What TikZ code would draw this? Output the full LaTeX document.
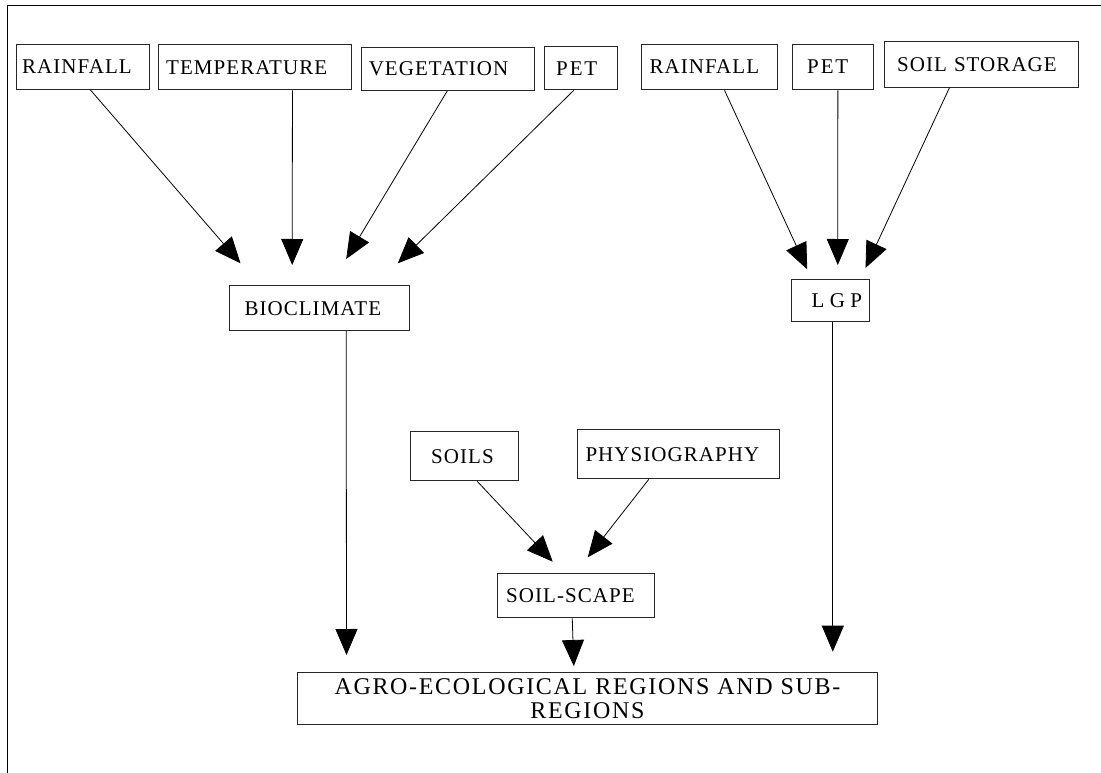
\documentclass[tikz,border=0pt]{standalone}
\usepackage{fontspec}
\usetikzlibrary{arrows.meta}
\newfontfamily\boxfont[LetterSpace=5]{Liberation Serif}
\newfontfamily\petfont[LetterSpace=9]{Liberation Serif}
\newfontfamily\lgpfont[LetterSpace=26]{Liberation Serif}
\newfontfamily\agrofont[LetterSpace=7]{Liberation Serif}
\tikzset{
  bx/.style={draw=black!85, line width=1pt, inner ysep=0pt, align=left, anchor=north west,
    font=\boxfont\fontsize{21}{24}\selectfont},
  conn/.style={line width=0.8pt, -{Triangle[length=26pt,width=22pt]}},
  frame/.style={line width=1pt}
}
\begin{document}
\begin{tikzpicture}[x=1pt,y=-1pt]
\useasboundingbox (0,0) rectangle (1101,773);
\draw[frame] (7,773) -- (7,6) -- (1101,6);
% top row, left group
\node[bx, minimum width=133pt, minimum height=45.3pt, inner xsep=6pt, text width=121pt] (r1) at (15.7,43.7) {RAINFALL};
\node[bx, minimum width=192.7pt, minimum height=45pt, inner xsep=7.7pt, text width=177.3pt] (tmp) at (158,44.3) {TEMPERATURE};
\node[bx, minimum width=173.6pt, minimum height=42.7pt, inner xsep=7.6pt, text width=158.4pt] (veg) at (360.7,47.3) {VEGETATION};
\node[bx, font=\petfont\fontsize{21}{24}\selectfont, minimum width=73pt, minimum height=43pt, inner xsep=11.4pt, text width=50.2pt] (pet1) at (544.3,46.3) {PET};
% top row, right group
\node[bx, minimum width=136.6pt, minimum height=45.6pt, inner xsep=8.3pt, text width=120pt] (r2) at (640.7,43.7) {RAINFALL};
\node[bx, font=\petfont\fontsize{21}{24}\selectfont, minimum width=80.7pt, minimum height=45.6pt, inner xsep=14.7pt, text width=51.3pt] (pet2) at (792,43.7) {PET};
\node[bx, minimum width=193.7pt, minimum height=45.4pt, inner xsep=12.4pt, text width=168.9pt] (ss) at (884.3,41.3) {SOIL STORAGE};
% middle
\node[bx, minimum width=179.4pt, minimum height=44.7pt, inner xsep=14.7pt, text width=150pt] (bio) at (229.3,285.3) {BIOCLIMATE};
\node[bx, font=\lgpfont\fontsize{21}{24}\selectfont, minimum width=78.6pt, minimum height=42.3pt, inner xsep=20.3pt, text width=38pt] (lgp) at (790.7,278.7) {LGP};
\node[bx, minimum width=108pt, minimum height=49pt, inner xsep=20.4pt, text width=67.2pt] (soils) at (410.3,431.3) {SOILS};
\node[bx, minimum width=202.6pt, minimum height=49.3pt, inner xsep=8.3pt, text width=186pt] (phys) at (576.7,429) {PHYSIOGRAPHY};
\node[bx, minimum width=157.5pt, minimum height=44pt, inner xsep=9.2pt, text width=139.1pt] (scape) at (496.5,573.3) {SOIL-SCAPE};
\node[bx, align=center, font=\agrofont\fontsize{24}{24.4}\selectfont, minimum width=580pt, minimum height=51.4pt, inner xsep=10pt, text width=560pt] (agro) at (297,672.3) {AGRO-ECOLOGICAL REGIONS AND SUB-\\REGIONS};
% connectors
\draw[conn] ([xshift=7.8pt]r1.south) -- ([xshift=-79pt,yshift=22pt]bio.north);
\draw[conn] ([xshift=37.6pt]tmp.south) -- ([xshift=-27.3pt,yshift=20.3pt]bio.north);
\draw[conn] ([xshift=-0.8pt]veg.south) -- ([xshift=26.7pt,yshift=26.3pt]bio.north);
\draw[conn] ([xshift=-7.5pt]pet1.south) -- ([xshift=78.3pt,yshift=22pt]bio.north);
\draw[conn] ([xshift=15pt]r2.south) -- ([xshift=-23.3pt,yshift=9.4pt]lgp.north);
\draw[conn] ([xshift=5pt]pet2.south) -- ([xshift=7.3pt,yshift=13.7pt]lgp.north);
\draw[conn] ([xshift=-32.2pt]ss.south) -- ([xshift=35pt,yshift=10.7pt]lgp.north);
\draw[conn] ([xshift=26.7pt]bio.south) -- ([xshift=-241pt,yshift=17.3pt]agro.north);
\draw[conn] ([xshift=2.3pt]lgp.south) -- ([xshift=245.3pt,yshift=20.6pt]agro.north);
\draw[conn] ([xshift=12.4pt]soils.south) -- ([xshift=-23pt,yshift=11.6pt]scape.north);
\draw[conn] ([xshift=-29.7pt]phys.south) -- ([xshift=12pt,yshift=16pt]scape.north);
\draw[conn] ([xshift=-3.5pt]scape.south) -- ([xshift=-13.7pt,yshift=6.3pt]agro.north);
\end{tikzpicture}
\end{document}
